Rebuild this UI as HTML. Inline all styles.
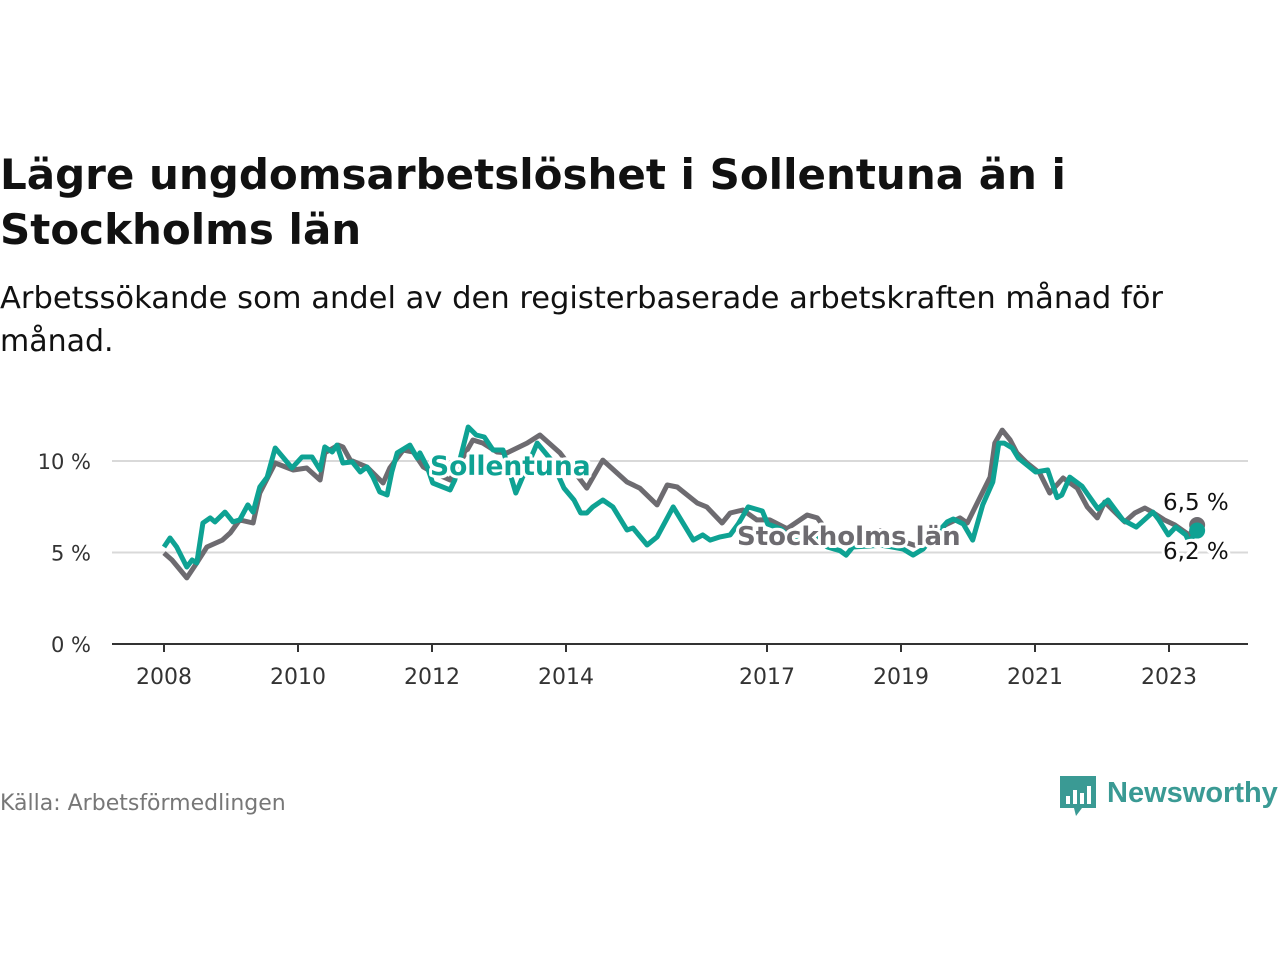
<!DOCTYPE html>
<html><head><meta charset="utf-8">
<style>
body{margin:0;background:#fff;}
svg{display:block;font-family:"DejaVu Sans","Liberation Sans",sans-serif;}
</style></head>
<body>
<svg id="chart" width="1280" height="960" viewBox="0 0 1280 960">
  <text x="0" y="189" font-size="42" font-weight="bold" fill="#111">Lägre ungdomsarbetslöshet i Sollentuna än i</text>
  <text x="0" y="244" font-size="42" font-weight="bold" fill="#111">Stockholms län</text>
  <text x="0" y="308" font-size="30" fill="#111" textLength="1163" lengthAdjust="spacingAndGlyphs">Arbetssökande som andel av den registerbaserade arbetskraften månad för</text>
  <text x="0" y="351" font-size="30" fill="#111">månad.</text>
  <g id="grid"></g>
  <g id="yaxis"></g>
  <g id="xaxis"></g>
  <g id="series"></g>
  <g id="labels"></g>
  <text x="0" y="810" font-size="22" fill="#777">Källa: Arbetsförmedlingen</text>
  <g>
    <path d="M1060 776 h36 v32 h-14 l-6 8 l-2 -8 h-14 z" fill="#3a9a94"/>
    <rect x="1066" y="796" width="4" height="8" fill="#fff"/>
    <rect x="1073" y="790" width="4" height="14" fill="#fff"/>
    <rect x="1080" y="793" width="4" height="11" fill="#fff"/>
    <rect x="1087" y="786" width="4" height="18" fill="#fff"/>
    <text x="1107" y="802" font-size="29" font-weight="bold" fill="#3a9a94" font-family="Liberation Sans, sans-serif">Newsworthy</text>
  </g>
</svg>
<script>
const yTicks = [0, 5, 10];
const yTickLabels = ["0 %", "5 %", "10 %"];
const xTicks = [2008, 2010, 2012, 2014, 2017, 2019, 2021, 2023];
const stockholmDates = [2008.00,2008.12,2008.34,2008.49,2008.64,2008.87,2008.99,2009.13,2009.33,2009.43,2009.66,2009.93,2010.13,2010.33,2010.40,2010.60,2010.67,2010.78,2011.03,2011.27,2011.37,2011.57,2011.72,2011.87,2012.00,2012.27,2012.61,2012.76,2012.97,2013.12,2013.42,2013.61,2013.91,2014.31,2014.55,2014.91,2015.10,2015.36,2015.51,2015.66,2015.96,2016.10,2016.33,2016.45,2016.64,2016.85,2017.04,2017.30,2017.60,2017.75,2018.00,2018.40,2018.70,2018.95,2019.20,2019.45,2019.66,2019.88,2019.99,2020.33,2020.40,2020.51,2020.63,2020.73,2020.88,2021.07,2021.22,2021.42,2021.63,2021.78,2021.93,2022.04,2022.16,2022.34,2022.49,2022.64,2022.75,2022.93,2023.09,2023.30,2023.42];
const stockholmValues = [4.97,4.59,3.61,4.43,5.30,5.68,6.07,6.78,6.61,8.25,9.89,9.51,9.62,8.96,10.44,10.87,10.77,10.05,9.67,8.80,9.62,10.60,10.49,9.67,9.40,8.96,11.15,10.98,10.49,10.44,10.98,11.42,10.44,8.52,10.05,8.85,8.52,7.60,8.69,8.58,7.70,7.49,6.61,7.16,7.32,6.78,6.78,6.30,7.05,6.89,5.70,5.40,6.20,5.70,5.40,5.80,6.50,6.89,6.61,9.12,10.98,11.69,11.15,10.44,9.89,9.34,8.25,9.07,8.52,7.49,6.89,7.76,7.32,6.67,7.16,7.43,7.21,6.78,6.50,5.96,6.5];
const sollentunaDates = [2008.00,2008.09,2008.19,2008.34,2008.42,2008.49,2008.58,2008.69,2008.76,2008.91,2009.03,2009.13,2009.25,2009.33,2009.43,2009.54,2009.66,2009.91,2010.06,2010.21,2010.33,2010.40,2010.51,2010.58,2010.67,2010.81,2010.93,2011.03,2011.12,2011.22,2011.33,2011.40,2011.48,2011.67,2011.78,2011.82,2011.93,2012.01,2012.27,2012.34,2012.54,2012.66,2012.78,2012.91,2013.06,2013.25,2013.57,2013.78,2013.97,2014.12,2014.22,2014.31,2014.40,2014.55,2014.70,2014.91,2015.00,2015.21,2015.36,2015.60,2015.90,2016.04,2016.15,2016.30,2016.45,2016.57,2016.72,2016.93,2017.01,2017.21,2017.40,2017.70,2017.90,2018.09,2018.18,2018.28,2018.70,2018.87,2019.03,2019.18,2019.33,2019.39,2019.69,2019.78,2019.93,2020.07,2020.22,2020.37,2020.46,2020.54,2020.66,2020.75,2021.01,2021.19,2021.33,2021.40,2021.52,2021.70,2021.94,2022.09,2022.31,2022.51,2022.76,2022.85,2022.99,2023.10,2023.25,2023.30,2023.42];
const sollentunaValues = [5.30,5.79,5.30,4.21,4.59,4.43,6.61,6.89,6.67,7.21,6.67,6.78,7.60,7.21,8.58,9.12,10.71,9.62,10.22,10.22,9.51,10.77,10.49,10.87,9.89,9.95,9.40,9.67,9.12,8.31,8.14,9.40,10.44,10.87,10.16,10.44,9.67,8.80,8.42,8.96,11.86,11.42,11.31,10.60,10.60,8.25,10.98,10.05,8.52,7.87,7.16,7.16,7.49,7.87,7.49,6.23,6.34,5.41,5.85,7.49,5.68,5.96,5.68,5.85,5.96,6.56,7.49,7.27,6.56,6.28,5.60,5.90,5.30,5.10,4.86,5.30,5.40,5.30,5.19,4.86,5.19,5.46,6.67,6.83,6.56,5.68,7.60,8.85,10.98,10.98,10.71,10.16,9.40,9.51,8.00,8.14,9.12,8.63,7.38,7.87,6.78,6.39,7.21,6.78,5.96,6.39,5.96,5.57,6.2];

const NS = "http://www.w3.org/2000/svg";
const X0 = 164, PXY = 67, Y0 = 644, PXV = 18.3;
const xScale = d => X0 + (d - 2008) * PXY;
const yScale = v => Y0 - v * PXV;
function mk(tag, attrs, parent){ const e=document.createElementNS(NS,tag); for(const k in attrs) e.setAttribute(k,attrs[k]); parent.appendChild(e); return e; }
const grid=document.getElementById('grid'), yaxis=document.getElementById('yaxis'), xaxis=document.getElementById('xaxis'), series=document.getElementById('series'), labels=document.getElementById('labels');

yTicks.forEach((t,i)=>{
  if(t>0){ const g=mk('line',{x1:112,x2:1248,y1:yScale(t),y2:yScale(t),stroke:'#d9d9d9','stroke-width':2},grid);
    
     }
  const tx=mk('text',{x:91,y:yScale(t)+8,'text-anchor':'end','font-size':21,fill:'#333'},yaxis);
  tx.textContent=yTickLabels[i];
  
  
});
const ax=mk('line',{x1:112,x2:1248,y1:Y0,y2:Y0,stroke:'#333','stroke-width':2},xaxis);


xTicks.forEach(t=>{
  const tk=mk('line',{x1:xScale(t),x2:xScale(t),y1:Y0,y2:Y0+8,stroke:'#333','stroke-width':2},xaxis);
  
  
  const tx=mk('text',{x:xScale(t),y:684,'text-anchor':'middle','font-size':22,fill:'#333'},xaxis);
  tx.textContent=t;
  
  
});
function path(dates,vals){ return dates.map((d,i)=>(i?'L':'M')+xScale(d).toFixed(1)+' '+yScale(vals[i]).toFixed(1)).join(' '); }
const gl=mk('path',{d:path(stockholmDates,stockholmValues),fill:'none',stroke:'#6d6b70','stroke-width':5,'stroke-linejoin':'round'},series);


const tl=mk('path',{d:path(sollentunaDates,sollentunaValues),fill:'none',stroke:'#0ea293','stroke-width':5,'stroke-linejoin':'round'},series);


const lg=stockholmValues.length-1, lt=sollentunaValues.length-1;
const d1=mk('circle',{cx:xScale(stockholmDates[lg]),cy:yScale(stockholmValues[lg]),r:8,fill:'#6d6b70'},series);


const d2=mk('circle',{cx:xScale(sollentunaDates[lt]),cy:yScale(sollentunaValues[lt]),r:8,fill:'#0ea293'},series);



function label(txt,x,y,size,color,bold,name){
  const h=mk('text',{x:x,y:y,'font-size':size,'font-weight':bold?'bold':'normal',fill:'#fff',stroke:'#fff','stroke-width':6,'stroke-linejoin':'round'},labels);
  h.textContent=txt;
  
  
  const t=mk('text',{x:x,y:y,'font-size':size,'font-weight':bold?'bold':'normal',fill:color},labels);
  t.textContent=txt;
  
  
}
label('Sollentuna',430,475,26.5,'#0ea293',true,'label-sollentuna');
label('Stockholms län',737,545,26,'#6d6b70',true,'label-stockholms-lan');
label('6,5 %',1163,510,23,'#111',false,'end-value-stockholms-lan');
label('6,2 %',1163,559,23,'#111',false,'end-value-sollentuna');
</script>
</body></html>
